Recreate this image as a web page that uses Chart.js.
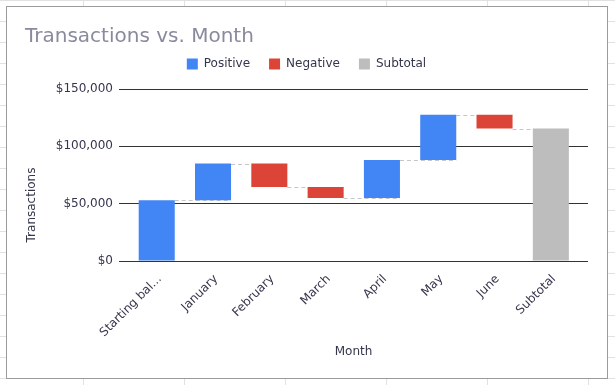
<!DOCTYPE html>
<html lang="en">
<head>
<meta charset="UTF-8">
<title>Transactions vs. Month</title>
<style>
  html, body {
    margin: 0;
    padding: 0;
  }
  body {
    width: 615px;
    height: 385px;
    overflow: hidden;
    background-color: #fff;
    background-image:
      linear-gradient(to bottom, #e1e1e1 1px, transparent 1px),
      linear-gradient(to right, #e1e1e1 1px, transparent 1px);
    background-size: 101px 21px, 101px 21px;
    background-position: 0 0, 83px 0;
  }
  .chart-box {
    position: absolute;
    left: 6px;
    top: 6px;
    width: 600px;
    height: 371px;
    border: 1px solid #9b9b9b;
    background: #fff;
  }
</style>
<script src="https://cdn.jsdelivr.net/npm/chart.js"></script>
</head>
<body>
<div class="chart-box">
  <canvas id="chart"></canvas>
</div>
<script>
const categories = ['Starting balance', 'January', 'February', 'March', 'April', 'May', 'June', 'Subtotal'];
const changes = [53000, 32000, -20500, -9500, 33000, 39500, -12000];
const subtotal = 115500;
const yTicks = [0, 50000, 100000, 150000];

const textColor = '#35354d';

// floating bars: each change runs from the previous level to the new one
const positive = [];
const negative = [];
const levels = [];
let level = 0;
changes.forEach((c, i) => {
  const next = level + c;
  (c >= 0 ? positive : negative).push({ x: i, y: [level, next] });
  levels.push(next);
  level = next;
});
const totals = [{ x: changes.length, y: [0, subtotal] }];

// dashed connector from the right edge of one bar to the right edge of the next
const connectors = {
  id: 'connectors',
  beforeDatasetsDraw(chart) {
    const { ctx } = chart;
    const yScale = chart.scales.y;
    const edges = [];
    chart.data.datasets.forEach((ds, d) => {
      chart.getDatasetMeta(d).data.forEach((bar, j) => {
        edges[ds.data[j].x] = bar.x + bar.width / 2;
      });
    });
    ctx.save();
    ctx.strokeStyle = '#c6c6c6';
    ctx.lineWidth = 1;
    ctx.setLineDash([4, 3]);
    levels.forEach((v, i) => {
      const py = Math.round(yScale.getPixelForValue(v)) + 0.5;
      ctx.beginPath();
      ctx.moveTo(edges[i], py);
      ctx.lineTo(edges[i + 1], py);
      ctx.stroke();
    });
    ctx.restore();
  }
};

// y axis title sits lower than the plot centre, like the original
const yAxisTitle = {
  id: 'yAxisTitle',
  afterDraw(chart) {
    const { ctx, chartArea } = chart;
    ctx.save();
    ctx.font = '12px "DejaVu Sans"';
    ctx.fillStyle = textColor;
    ctx.textAlign = 'center';
    ctx.textBaseline = 'middle';
    ctx.translate(chart.scales.y.left + 7, chartArea.bottom - 56);
    ctx.rotate(-Math.PI / 2);
    ctx.fillText('Transactions', 0, 0);
    ctx.restore();
  }
};

Chart.defaults.font.family = "'DejaVu Sans', Verdana, sans-serif";
Chart.defaults.font.size = 12;
Chart.defaults.color = textColor;

new Chart(document.getElementById('chart'), {
  type: 'bar',
  data: {
    datasets: [
      { label: 'Positive', data: positive, backgroundColor: '#4285f4' },
      { label: 'Negative', data: negative, backgroundColor: '#db4437' },
      { label: 'Subtotal', data: totals, backgroundColor: '#bdbdbd' }
    ]
  },
  options: {
    responsive: true,
    maintainAspectRatio: false,
    animation: false,
    layout: { padding: { top: 0, left: 18, right: 19, bottom: 15 } },
    datasets: {
      bar: { grouped: false, barPercentage: 0.8, categoryPercentage: 0.8 }
    },
    scales: {
      x: {
        type: 'linear',
        offset: false,
        min: -0.67,
        max: categories.length - 1 + 0.66,
        afterBuildTicks: s => { s.ticks = categories.map((_, i) => ({ value: i })); },
        afterFit: s => { s.height = 102; },
        grid: { display: false, drawTicks: false },
        border: { display: false },
        ticks: {
          autoSkip: false,
          minRotation: 45,
          maxRotation: 45,
          padding: 11,
          labelOffset: 3,
          callback: v => {
            const l = categories[v];
            return l.length > 12 ? l.slice(0, 12) + '...' : l;
          }
        },
        title: { display: true, text: 'Month', padding: { top: 4, bottom: 4 } }
      },
      y: {
        min: 0,
        max: 150000,
        afterBuildTicks: s => { s.ticks = yTicks.map(v => ({ value: v })); },
        afterFit: s => { s.width = 94; },
        grid: { color: '#333333', drawTicks: false },
        border: { display: false },
        ticks: {
          padding: 6,
          callback: v => '$' + v.toLocaleString('en-US')
        }
      }
    },
    plugins: {
      title: {
        display: true,
        text: 'Transactions vs. Month',
        align: 'start',
        color: '#8a8a9e',
        font: { size: 20, weight: 'normal', lineHeight: 0.2 },
        padding: { top: 28, bottom: 0 }
      },
      // empty spacer between the legend and the plot
      subtitle: {
        display: true,
        text: '',
        weight: 500,
        font: { size: 9, lineHeight: 1 },
        padding: 0
      },
      legend: {
        position: 'top',
        align: 'center',
        labels: { boxWidth: 11, boxHeight: 11, padding: 19, color: textColor }
      },
      tooltip: { enabled: false }
    }
  },
  plugins: [connectors, yAxisTitle]
});
</script>
</body>
</html>
